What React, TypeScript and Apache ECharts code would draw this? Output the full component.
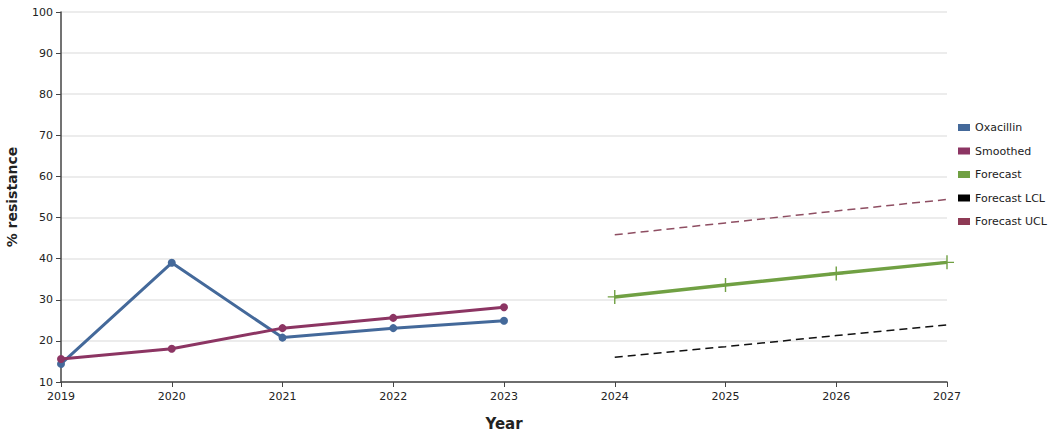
import React, { useEffect, useRef } from "react";
import * as echarts from "echarts";

const years = [2019, 2020, 2021, 2022, 2023];
const forecastYears = [2024, 2025, 2026, 2027];
const oxacillin = [14.4, 39.0, 20.8, 23.1, 24.9];
const smoothed = [15.6, 18.1, 23.1, 25.6, 28.2];
const forecast = [30.7, 33.6, 36.4, 39.1];
const forecastLCL = [16.0, 18.6, 21.3, 23.9];
const forecastUCL = [45.8, 48.7, 51.6, 54.4];

const FONT = "DejaVu Sans";
const plus = "path://M9,0h2v9h9v2h-9v9h-2v-9h-9v-2h9z";

const pair = (xs: number[], ys: number[]) => xs.map((x, i) => [x, ys[i]]);

export default function App() {
  const ref = useRef<HTMLDivElement>(null);
  useEffect(() => {
    if (!ref.current) return;
    const chart = echarts.init(ref.current, undefined, { renderer: "svg" });
    chart.setOption({
      animation: false,
      textStyle: { fontFamily: FONT },
      grid: { left: 61, right: 102, top: 12, bottom: 56, containLabel: false, outerBoundsMode: "none" },
      legend: {
        orient: "vertical",
        left: 953,
        top: 117,
        itemWidth: 12,
        itemHeight: 7,
        itemGap: 12.5,
        icon: "rect",
        textStyle: { fontFamily: FONT, fontSize: 11, color: "#222" },
        data: ["Oxacillin", "Smoothed", "Forecast", "Forecast LCL", "Forecast UCL"],
      },
      xAxis: {
        type: "value",
        min: 2019,
        max: 2027,
        interval: 1,
        name: "Year",
        nameLocation: "middle",
        nameGap: 34,
        nameTextStyle: { fontFamily: FONT, fontSize: 15, fontWeight: "bold", color: "#222" },
        axisLine: { lineStyle: { color: "#444", width: 1.5 } },
        axisTick: { show: true, length: 5, lineStyle: { color: "#444" } },
        axisLabel: { formatter: (v: number) => String(v), color: "#222", fontSize: 11, fontFamily: FONT, margin: 9 },
        splitLine: { show: false },
      },
      yAxis: {
        type: "value",
        min: 10,
        max: 100,
        interval: 10,
        name: "% resistance",
        nameLocation: "middle",
        nameGap: 42,
        nameTextStyle: { fontFamily: FONT, fontSize: 14, fontWeight: "bold", color: "#222" },
        axisLine: { show: true, lineStyle: { color: "#444", width: 1.5 } },
        axisTick: { show: true, length: 5, lineStyle: { color: "#444" } },
        axisLabel: { color: "#222", fontSize: 11, fontFamily: FONT, margin: 8 },
        splitLine: { show: true, lineStyle: { color: "#e6e6e6", width: 1.5 } },
      },
      series: [
        {
          name: "Oxacillin",
          type: "line",
          data: pair(years, oxacillin),
          symbol: "circle",
          symbolSize: 8,
          lineStyle: { color: "#44699a", width: 3 },
          itemStyle: { color: "#44699a" },
          z: 3,
        },
        {
          name: "Smoothed",
          type: "line",
          data: pair(years, smoothed),
          symbol: "circle",
          symbolSize: 8,
          lineStyle: { color: "#8c3563", width: 3 },
          itemStyle: { color: "#8c3563" },
          z: 4,
        },
        {
          name: "Forecast",
          type: "line",
          data: pair(forecastYears, forecast),
          symbol: plus,
          symbolSize: 14,
          lineStyle: { color: "#70a043", width: 3.5 },
          itemStyle: { color: "#70a043" },
          z: 3,
        },
        {
          name: "Forecast LCL",
          type: "line",
          data: pair(forecastYears, forecastLCL),
          symbol: "none",
          lineStyle: { color: "#111", width: 1.5, type: [8, 5] },
          itemStyle: { color: "#000" },
          z: 2,
        },
        {
          name: "Forecast UCL",
          type: "line",
          data: pair(forecastYears, forecastUCL),
          symbol: "none",
          lineStyle: { color: "#8e4e62", width: 1.5, type: [8, 5] },
          itemStyle: { color: "#8e3a55" },
          z: 2,
        },
      ],
    });
    return () => chart.dispose();
  }, []);
  return <div ref={ref} style={{ width: 1049, height: 438, position: "absolute", left: 0, top: 0 }} />;
}
